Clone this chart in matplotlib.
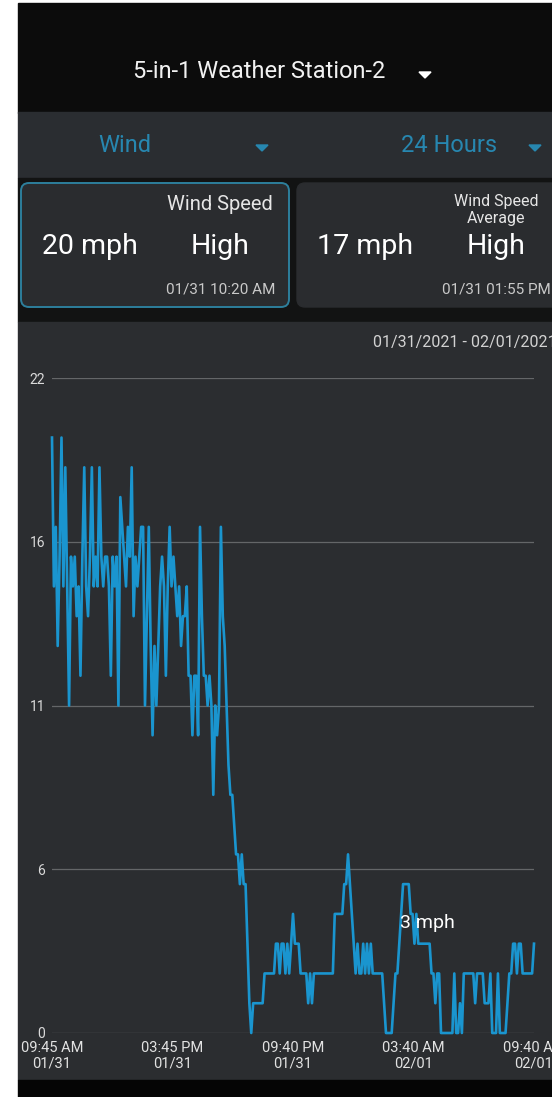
import numpy as np
import matplotlib
matplotlib.use("Agg")
import matplotlib.pyplot as plt
from matplotlib.patches import Rectangle, FancyBboxPatch, Polygon

# wind speed (mph), one reading per sample over the 24 hour window
speed = [
    20, 15, 17, 13, 16, 20, 15, 19, 15, 11,
    16, 15, 16, 14, 15, 12, 16, 19, 15, 14,
    16, 19, 15, 16, 15, 19, 16, 15, 16, 16,
    15, 12, 16, 15, 16, 11, 18, 17, 16, 15,
    17, 16, 19, 14, 16, 15, 16, 17, 17, 11,
    14, 17, 13, 10, 13, 11, 13, 15, 16, 15,
    12, 15, 17, 15, 16, 15, 14, 15, 13, 14,
    14, 15, 12, 12, 10, 12, 12, 10, 17, 14,
    12, 12, 11, 12, 11, 8, 11, 10, 11, 17,
    14, 13, 11, 9, 8, 8, 7, 6, 6, 5,
    6, 5, 5, 3, 1, 0, 1, 1, 1, 1,
    1, 1, 2, 2, 2, 2, 2, 2, 3, 3,
    2, 3, 3, 2, 3, 2, 3, 4, 3, 3,
    3, 2, 2, 2, 2, 1, 2, 1, 2, 2,
    2, 2, 2, 2, 2, 2, 2, 2, 2, 4,
    4, 4, 4, 4, 5, 5, 6, 5, 4, 3,
    2, 3, 2, 2, 3, 2, 3, 2, 3, 2,
    2, 2, 2, 2, 2, 1, 0, 0, 0, 0,
    1, 2, 2, 3, 4, 5, 5, 5, 5, 4,
    4, 3, 4, 3, 3, 3, 3, 3, 3, 3,
    2, 2, 1, 2, 2, 0, 0, 0, 0, 0,
    0, 0, 2, 0, 0, 1, 0, 2, 2, 2,
    2, 2, 2, 1, 2, 2, 2, 2, 1, 1,
    1, 2, 0, 0, 0, 2, 0, 0, 0, 0,
    1, 2, 2, 3, 3, 2, 3, 3, 2, 2,
    2, 2, 2, 2, 3,
]
hours = np.linspace(0, 24, len(speed))   # 09:45 AM 01/31 -> 09:40 AM 02/01

tick_hours = [0, 6, 12, 18, 24]
tick_labels = ["09:45 AM\n01/31", "03:45 PM\n01/31", "09:40 PM\n01/31",
               "03:40 AM\n02/01", "09:40 AM\n02/01"]
y_ticks = [0, 5.5, 11, 16.5, 22]
y_labels = [str(round(v)) for v in y_ticks]

station = "5-in-1 Weather Station-2"
sensor = "Wind"
period = "24 Hours"
date_range = "01/31/2021 - 02/01/2021"
card_titles = ["Wind Speed", "Wind Speed\nAverage"]
card_values = ["20 mph", "17 mph"]
card_levels = ["High", "High"]
card_times = ["01/31 10:20 AM", "01/31 01:55 PM"]
hover_label = "3 mph"

plt.rcParams["font.family"] = ["Roboto", "DejaVu Sans"]

W, H = 552, 1097
fig = plt.figure(figsize=(W / 100, H / 100), dpi=100)
fig.patch.set_facecolor("white")

# ---- app chrome, drawn in pixel-like coords ----
ui = fig.add_axes([0, 0, 1, 1], zorder=0)
ui.set_xlim(0, W)
ui.set_ylim(H, 0)
ui.axis("off")

ui.add_patch(Rectangle((18, 3), W - 18, 110, color="#0c0c0c"))
ui.add_patch(Rectangle((18, 112), W - 18, 66, color="#2a2d31"))
ui.add_patch(Rectangle((18, 178), W - 18, 144, color="#121313"))
ui.add_patch(Rectangle((18, 322), W - 18, 758, color="#2b2d30"))
ui.add_patch(Rectangle((18, 1080), W - 18, H - 1080, color="#050505"))

ui.text(259, 72, station, color="#f2f2f2", fontsize=17, ha="center", va="center")
ui.add_patch(Polygon([(419, 72), (431, 72), (425, 78)], color="white"))

teal = "#2787b0"
ui.text(125, 146, sensor, color=teal, fontsize=17, ha="center", va="center")
ui.add_patch(Polygon([(256, 145), (268, 145), (262, 151)], color=teal))
ui.text(449, 146, period, color=teal, fontsize=17, ha="center", va="center")
ui.add_patch(Polygon([(529, 145), (541, 145), (535, 151)], color=teal))

# summary cards
ui.add_patch(FancyBboxPatch((21, 183), 268, 124, boxstyle="round,pad=0,rounding_size=8",
                            fc="#2a2c2f", ec="#2d7f9c", lw=1.4))
ui.add_patch(FancyBboxPatch((297, 183), 270, 124, boxstyle="round,pad=0,rounding_size=8",
                            fc="#2a2c2f", ec="#2a2c2f", lw=1))
ui.text(220, 204, card_titles[0], color="#e6e6e6", fontsize=14.5,
        ha="center", va="center")
ui.text(496, 210, card_titles[1], color="#e6e6e6", fontsize=11.5,
        ha="center", va="center", linespacing=1.15)
for cx, val in zip([90, 365], card_values):
    ui.text(cx, 246, val, color="white", fontsize=20.5, ha="center", va="center")
for cx, lvl in zip([220, 496], card_levels):
    ui.text(cx, 246, lvl, color="white", fontsize=20.5, ha="center", va="center")
for cx, t in zip([221, 496], card_times):
    ui.text(cx, 290, t, color="#c9c9c9", fontsize=11, ha="center", va="center")

ui.text(373, 343, date_range, color="#d2d2d2", fontsize=11.5,
        ha="left", va="center")

# ---- chart ----
ax = fig.add_axes([52 / W, (H - 1033) / H, 482 / W, 655 / H], zorder=1)
ax.set_facecolor("none")
ax.plot(hours, speed, color="#1a95cf", lw=1.9, clip_on=False, zorder=3)
ax.set_xlim(0, 24)
ax.set_ylim(0, 22)
for s in ax.spines.values():
    s.set_visible(False)
ax.set_yticks(y_ticks)
ax.set_yticklabels(y_labels)
ax.set_xticks(tick_hours)
ax.set_xticklabels(tick_labels, linespacing=1.15)
ax.tick_params(axis="y", length=0, pad=5, labelsize=10, labelcolor="#dadada")
ax.tick_params(axis="x", length=0, pad=6, labelsize=10.5, labelcolor="#e2e2e2")
ax.grid(axis="y", color="#646668", lw=0.9)
ax.grid(axis="x", visible=False)
ax.set_axisbelow(True)

ax.text(18.7, 3.7, hover_label, color="white", fontsize=14,
        ha="center", va="center", zorder=4)

fig.savefig("out.png", dpi=100, facecolor=fig.get_facecolor())
